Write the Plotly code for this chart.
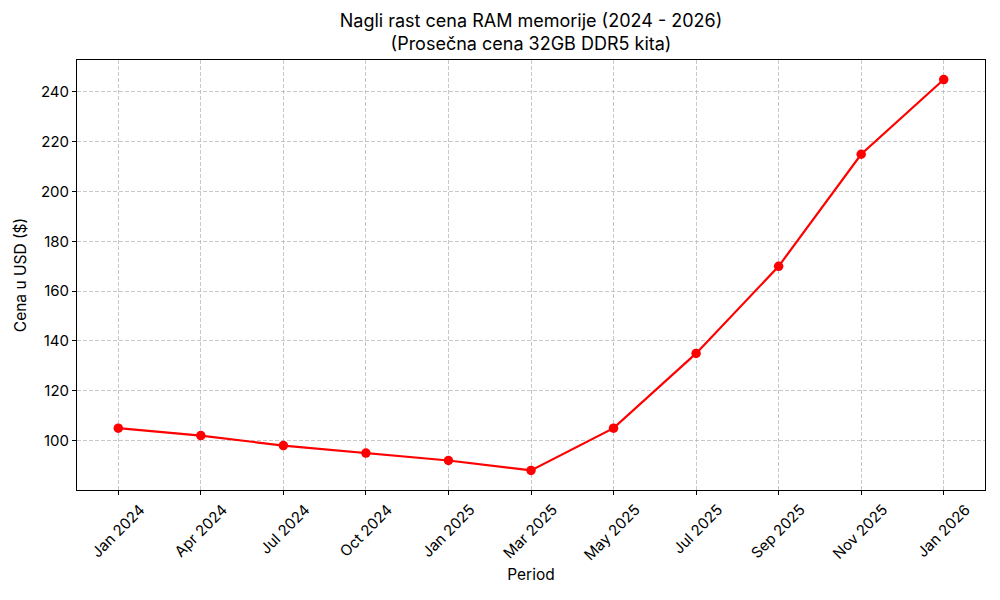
import plotly.graph_objects as go

periods = ["Jan 2024", "Apr 2024", "Jul 2024", "Oct 2024", "Jan 2025", "Mar 2025",
           "May 2025", "Jul 2025", "Sep 2025", "Nov 2025", "Jan 2026"]
prices = [105, 102, 98, 95, 92, 88, 105, 135, 170, 215, 245]
y_ticks = [100, 120, 140, 160, 180, 200, 220, 240]

FONT = "Inter, Roboto, sans-serif"

fig = go.Figure()
fig.add_trace(go.Scatter(
    x=periods, y=prices, mode="lines+markers",
    line=dict(color="#ff0000", width=2.2),
    marker=dict(color="#ff0000", size=9.5),
    showlegend=False,
))

pad = (max(prices) - min(prices)) * 0.05
axis_common = dict(
    showline=True, linecolor="black", linewidth=1, mirror=True,
    ticks="outside", ticklen=4, tickcolor="black", tickwidth=1,
    showgrid=True, gridcolor="rgba(176,176,176,0.7)", griddash="4px,2px", gridwidth=1,
    zeroline=False,
    tickfont=dict(family=FONT, size=15, color="black"),
)
fig.update_xaxes(**axis_common, type="category", range=[-0.5, len(periods) - 0.5],
                 tickangle=-45, ticklabelshift=22, ticklabelstandoff=0,
                 title=dict(text="Period", font=dict(family=FONT, size=15.5, color="black"), standoff=6))
fig.update_yaxes(**axis_common, range=[min(prices) - pad, max(prices) + pad],
                 tickvals=y_ticks,
                 title=dict(text="Cena u USD ($)", font=dict(family=FONT, size=15.5, color="black"), standoff=10))

fig.update_layout(
    width=1000, height=600,
    margin=dict(l=77, r=15, t=60, b=110),
    paper_bgcolor="white", plot_bgcolor="white",
    title=dict(text="Nagli rast cena RAM memorije (2024 - 2026)<br>(Prosečna cena 32GB DDR5 kita)",
               x=0.531, xanchor="center", y=0.955, yanchor="top",
               font=dict(family=FONT, size=18, color="black")),
)

fig.write_html("out.html")
